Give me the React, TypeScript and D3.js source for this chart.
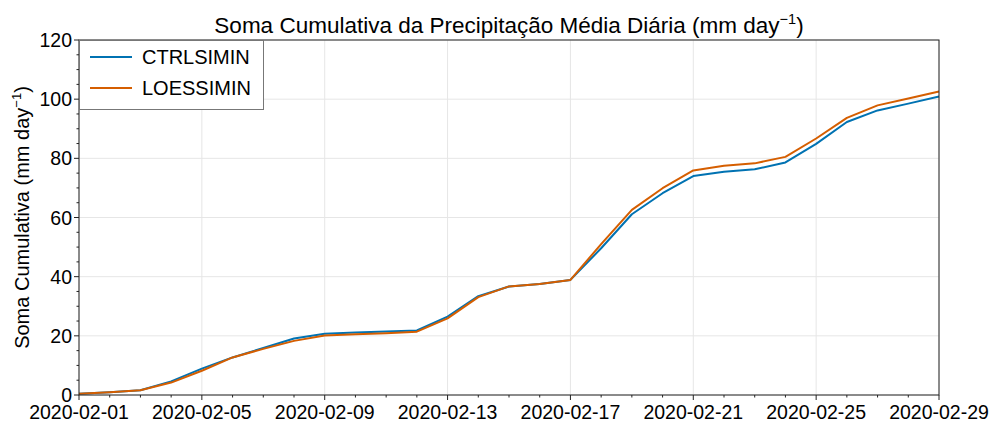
import React from "react";
import * as d3 from "d3";

const dates = [
  "2020-02-01","2020-02-02","2020-02-03","2020-02-04","2020-02-05","2020-02-06","2020-02-07",
  "2020-02-08","2020-02-09","2020-02-10","2020-02-11","2020-02-12","2020-02-13","2020-02-14",
  "2020-02-15","2020-02-16","2020-02-17","2020-02-18","2020-02-19","2020-02-20","2020-02-21",
  "2020-02-22","2020-02-23","2020-02-24","2020-02-25","2020-02-26","2020-02-27","2020-02-28",
  "2020-02-29",
];
const ctrl = [0.4, 0.9, 1.6, 4.6, 8.9, 12.7, 15.9, 19.1, 20.7, 21.1, 21.5, 21.8, 26.5, 33.4,
  36.7, 37.5, 38.9, 49.6, 61.1, 68.2, 74.0, 75.5, 76.3, 78.6, 84.9, 92.3, 96.2, 98.5, 100.9];
const loess = [0.4, 0.9, 1.6, 4.2, 8.2, 12.7, 15.6, 18.3, 20.1, 20.5, 20.9, 21.4, 25.9, 33.1,
  36.7, 37.5, 38.9, 51.0, 62.6, 69.9, 75.9, 77.5, 78.3, 80.5, 86.7, 93.7, 97.9, 100.2, 102.6];
const seriesNames = ["CTRLSIMIN", "LOESSIMIN"];
const seriesColors = ["#0072B2", "#D55E00"];
const yTicks = [0, 20, 40, 60, 80, 100, 120];
const xTickLabels = ["2020-02-01","2020-02-05","2020-02-09","2020-02-13","2020-02-17","2020-02-21","2020-02-25","2020-02-29"];

const W = 995, H = 424;
const M = { left: 79, right: 939, top: 40, bottom: 395 };
const FONT = "'Liberation Sans', Arial, Helvetica, sans-serif";

export default function App() {
  const parse = d3.utcParse("%Y-%m-%d");
  const xs = dates.map((d) => parse(d) as Date);
  const x = d3.scaleUtc().domain([xs[0], xs[xs.length - 1]]).range([M.left, M.right]);
  const y = d3.scaleLinear().domain([0, 120]).range([M.bottom, M.top]);
  const minorY = d3.range(0, 121, 5).filter((v) => v % 20 !== 0);
  const majorX = xTickLabels.map((d) => parse(d) as Date);
  const minorX = xs.filter((d) => !majorX.some((m) => +m === +d));
  const line = d3.line<number>().x((_, i) => x(xs[i])).y((v) => y(v));
  const all = [ctrl, loess];
  const frame = "#222";

  return (
    <svg width={W} height={H} style={{ position: "absolute", left: 0, top: 0, background: "#fff" }}>
      <rect x={0} y={0} width={W} height={H} fill="#fff" />
      <g stroke="#e6e6e6" strokeWidth={1}>
        {yTicks.map((t) => (
          <line key={"gy" + t} x1={M.left} x2={M.right} y1={y(t)} y2={y(t)} />
        ))}
        {majorX.map((d, i) => (
          <line key={"gx" + i} x1={x(d)} x2={x(d)} y1={M.top} y2={M.bottom} />
        ))}
      </g>
      {all.map((s, i) => (
        <path key={i} d={line(s) || ""} fill="none" stroke={seriesColors[i]} strokeWidth={2} strokeLinejoin="round" />
      ))}
      <rect x={M.left} y={M.top} width={M.right - M.left} height={M.bottom - M.top} fill="none" stroke={frame} strokeWidth={1} />
      <g stroke={frame} strokeWidth={1}>
        {yTicks.map((t) => (
          <line key={"ty" + t} x1={M.left - 5} x2={M.left} y1={y(t)} y2={y(t)} />
        ))}
        {minorY.map((t) => (
          <line key={"my" + t} x1={M.left - 2.5} x2={M.left} y1={y(t)} y2={y(t)} />
        ))}
        {majorX.map((d, i) => (
          <line key={"tx" + i} x1={x(d)} x2={x(d)} y1={M.bottom} y2={M.bottom + 5} />
        ))}
        {minorX.map((d, i) => (
          <line key={"mx" + i} x1={x(d)} x2={x(d)} y1={M.bottom} y2={M.bottom + 2.5} />
        ))}
      </g>
      <g fontFamily={FONT} fontSize={19.5} fill="#000">
        {yTicks.map((t) => (
          <text key={"ly" + t} x={M.left - 7} y={y(t)} dy="0.36em" textAnchor="end">{t}</text>
        ))}
        {majorX.map((d, i) => (
          <text key={"lx" + i} x={x(d)} y={M.bottom + 24} textAnchor="middle">{xTickLabels[i]}</text>
        ))}
      </g>
      <text x={(M.left + M.right) / 2} y={33} textAnchor="middle" fontFamily={FONT} fontSize={22.5} fill="#000">
        Soma Cumulativa da Precipitação Média Diária (mm day<tspan dy={-9} fontSize={14.5}>−1</tspan><tspan dy={9}>)</tspan>
      </text>
      <text transform={`translate(29,${(M.top + M.bottom) / 2}) rotate(-90)`} textAnchor="middle" fontFamily={FONT} fontSize={20} fill="#000">
        Soma Cumulativa (mm day<tspan dy={-8} fontSize={13}>−1</tspan><tspan dy={8}>)</tspan>
      </text>
      <g>
        <rect x={M.left + 0.5} y={M.top + 0.5} width={184} height={69} fill="#fff" stroke="#777" strokeWidth={1} />
        {seriesNames.map((n, i) => (
          <g key={n}>
            <line x1={90} x2={132} y1={57 + i * 31} y2={57 + i * 31} stroke={seriesColors[i]} strokeWidth={2} />
            <text x={142} y={57 + i * 31} dy="0.36em" fontFamily={FONT} fontSize={20} fill="#000">{n}</text>
          </g>
        ))}
      </g>
    </svg>
  );
}
